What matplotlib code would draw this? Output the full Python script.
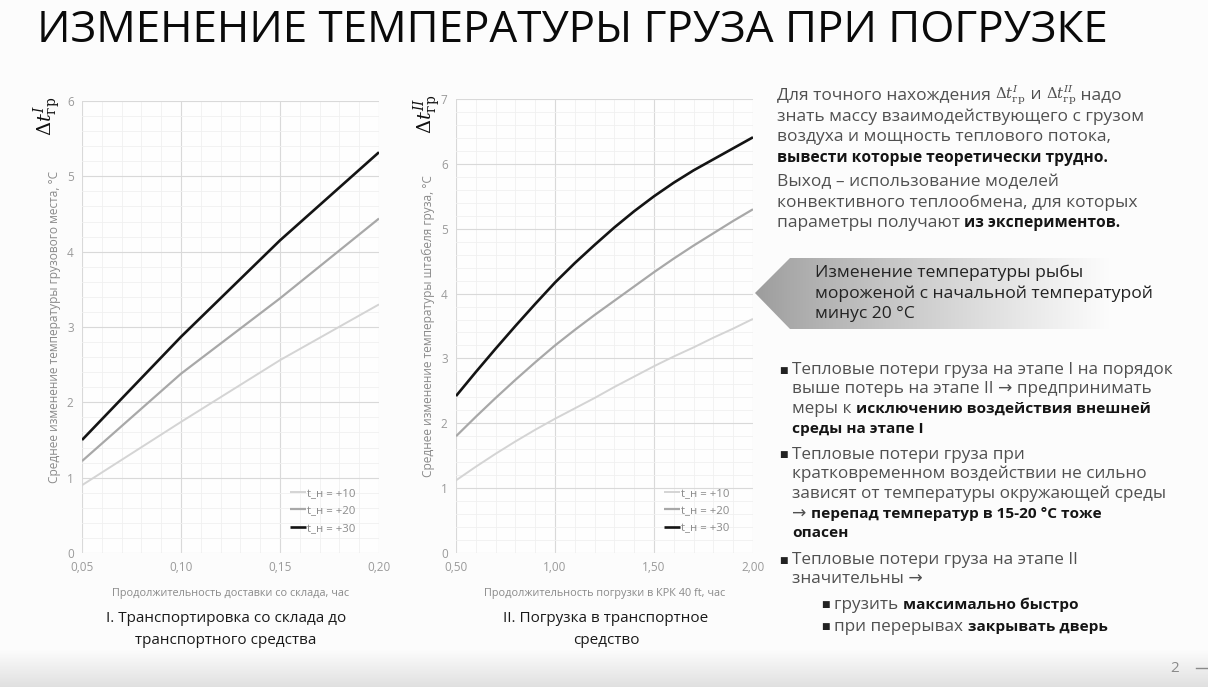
import numpy as np
import matplotlib
matplotlib.use("Agg")
import matplotlib.pyplot as plt
from matplotlib.patches import Polygon
from matplotlib.ticker import FuncFormatter, MultipleLocator

plt.rcParams['font.family'] = ['Open Sans', 'DejaVu Sans']
plt.rcParams['mathtext.fontset'] = 'dejavuserif'

W, H = 1208, 687

# --- data ---
legend_labels = ["t_н = +10", "t_н = +20", "t_н = +30"]

x1 = [0.05, 0.10, 0.15, 0.20]
y1_10 = [0.90, 1.74, 2.56, 3.30]
y1_20 = [1.22, 2.38, 3.38, 4.44]
y1_30 = [1.50, 2.87, 4.15, 5.32]

x2 = [0.5, 0.6, 0.7, 0.8, 0.9, 1.0, 1.1, 1.2, 1.3, 1.4, 1.5, 1.6, 1.7, 1.8, 1.9, 2.0]
y2_10 = [1.12, 1.33, 1.53, 1.72, 1.90, 2.07, 2.23, 2.39, 2.56, 2.72, 2.88, 3.03, 3.17, 3.32, 3.46, 3.61]
y2_20 = [1.80, 2.10, 2.39, 2.67, 2.94, 3.20, 3.44, 3.67, 3.89, 4.11, 4.33, 4.54, 4.74, 4.93, 5.12, 5.30]
y2_30 = [2.42, 2.79, 3.15, 3.50, 3.84, 4.17, 4.47, 4.75, 5.02, 5.27, 5.50, 5.71, 5.90, 6.07, 6.24, 6.41]

line_colors = ["#d4d4d4", "#a8a8a8", "#141414"]
line_widths = [1.4, 1.6, 1.9]

fig = plt.figure(figsize=(W / 100, H / 100), dpi=100)
fig.patch.set_facecolor("#fcfcfc")

# background axes in pixel coordinates
bg = fig.add_axes([0, 0, 1, 1])
bg.axis("off")
bg.set_zorder(-5)


def vgrad(c0, c1, n=100):
    t = np.linspace(0, 1, n)
    a, b = np.array(c0), np.array(c1)
    return a + (b - a) * t[:, None]


# bottom light gray band
band = vgrad([0.988, 0.988, 0.988], [0.88, 0.88, 0.88]).reshape(-1, 1, 3)
bg.imshow(band, extent=[0, W, H, 650], aspect="auto", interpolation="bilinear")

# arrow box with gradient
pts = [(755, 293), (790, 258), (1200, 258), (1200, 329), (790, 329)]
poly = Polygon(pts, closed=True, facecolor="none", edgecolor="none")
bg.add_patch(poly)
t = np.linspace(0, 1, 300)
g = 0.61 + 0.38 * np.clip(t / 0.8, 0, 1) ** 0.85
hgrad = np.stack([g, g, g], axis=-1).reshape(1, -1, 3)
im = bg.imshow(hgrad, extent=[755, 1200, 329, 258], aspect="auto", interpolation="bilinear")
im.set_clip_path(poly)
bg.set_xlim(0, W)
bg.set_ylim(H, 0)


def px(x, y):
    return x / W, 1 - y / H


renderer = fig.canvas.get_renderer()

# title, fitted to the width on the slide
title = fig.text(*px(37, 31), "ИЗМЕНЕНИЕ ТЕМПЕРАТУРЫ ГРУЗА ПРИ ПОГРУЗКЕ",
                 fontsize=30, color="#0a0a0a", va="center", ha="left")
tw = title.get_window_extent(renderer).width
title.set_fontsize(30 * 1073 / tw)


def comma(v, pos, nd):
    return f"{v:.{nd}f}".replace(".", ",")


def make_chart(rect, xs, ys_list, xlim, ylim, xmaj, xmin_step, xlabel, ylabel, delta, dx):
    ax = fig.add_axes(rect)
    ax.set_facecolor("#fefefe")
    for ys, lab, c, lw in zip(ys_list, legend_labels, line_colors, line_widths):
        ax.plot(xs, ys, color=c, lw=lw, label=lab, solid_capstyle="butt", solid_joinstyle="round")
    ax.set_xlim(*xlim)
    ax.set_ylim(*ylim)
    ax.xaxis.set_major_locator(MultipleLocator(xmaj))
    ax.xaxis.set_minor_locator(MultipleLocator(xmin_step))
    ax.yaxis.set_major_locator(MultipleLocator(1))
    ax.yaxis.set_minor_locator(MultipleLocator(0.2))
    ax.xaxis.set_major_formatter(FuncFormatter(lambda v, p: comma(v, p, 2)))
    ax.grid(which="major", color="#d9d9d9", lw=0.8)
    ax.grid(which="minor", color="#f0f0f0", lw=0.6)
    ax.set_axisbelow(True)
    ax.tick_params(which="both", length=0, labelsize=8.5, labelcolor="#9a9a9a", pad=6)
    for s in ax.spines.values():
        s.set_visible(False)
    ax.set_xlabel(xlabel, fontsize=7.8, color="#8a8a8a", labelpad=10)
    ax.set_ylabel(ylabel, fontsize=8.6, color="#8a8a8a", labelpad=4)
    ax.legend(loc="center", bbox_to_anchor=(0.81, 0.093), frameon=False,
              fontsize=8.2, handlelength=1.4, handletextpad=0.1, labelspacing=0.55,
              labelcolor="#8a8a8a")
    ax.text(dx, 1.01, delta, transform=ax.transAxes, rotation=90,
            fontsize=14, ha="center", va="top", color="#111111")
    return ax


make_chart([82 / W, 1 - 553 / H, 297 / W, 452 / H], x1, [y1_10, y1_20, y1_30],
           (0.05, 0.20), (0, 6), 0.05, 0.01,
           "Продолжительность доставки со склада, час",
           "Среднее изменение температуры грузового места, °С",
           r"$\Delta t^{I}_{\mathrm{гр}}$", -0.118)
make_chart([456 / W, 1 - 553 / H, 297 / W, 454 / H], x2, [y2_10, y2_20, y2_30],
           (0.50, 2.00), (0, 7), 0.50, 0.10,
           "Продолжительность погрузки в КРК 40 ft, час",
           "Среднее изменение температуры штабеля груза, °С",
           r"$\Delta t^{II}_{\mathrm{гр}}$", -0.098)

# captions under the charts
cap_kw = dict(fontsize=11, color="#1a1a1a", ha="center", va="center")
fig.text(*px(226, 619), "I. Транспортировка со склада до", **cap_kw)
fig.text(*px(226, 640), "транспортного средства", **cap_kw)
fig.text(*px(606, 619), "II. Погрузка в транспортное", **cap_kw)
fig.text(*px(606, 640), "средство", **cap_kw)

GRAY = "#505050"
DARK = "#151515"


def runs(x, y, parts, size=12.5):
    # parts: list of (text, bold) ; bold runs a little smaller to match the narrow slide font
    cx = x / W
    for s, bold in parts:
        fs = size
        if bold:
            fs = size * 0.9
        if s.startswith("$"):
            fs = size * 0.86
        t = fig.text(cx, 1 - y / H, s, fontsize=fs, va="center", ha="left",
                     weight="bold" if bold else "normal",
                     color=DARK if bold else GRAY)
        cx = t.get_window_extent(renderer).x1 / W


# right column
runs(777, 95, [("Для точного нахождения ", False),
               (r"$\Delta t^{I}_{\mathrm{гр}}$", False), (" и ", False),
               (r"$\Delta t^{II}_{\mathrm{гр}}$", False), (" надо", False)])
runs(777, 117, [("знать массу взаимодействующего с грузом", False)])
runs(777, 137, [("воздуха и мощность теплового потока,", False)])
runs(777, 158, [("вывести которые теоретически трудно.", True)])
runs(777, 182, [("Выход – использование моделей", False)])
runs(777, 203, [("конвективного теплообмена, для которых", False)])
runs(777, 223, [("параметры получают ", False), ("из экспериментов.", True)])

for yy, s in [(273, "Изменение температуры рыбы"),
              (294, "мороженой с начальной температурой"),
              (314, "минус 20 °С")]:
    fig.text(*px(815, yy), s, fontsize=12.6, color="#222222", va="center", ha="left")

bs = 12.3
bullet_lines = [
    (370, True, [("Тепловые потери груза на этапе I на порядок", False)]),
    (389, False, [("выше потерь на этапе II → предпринимать", False)]),
    (409, False, [("меры к ", False), ("исключению воздействия внешней", True)]),
    (429, False, [("среды на этапе I", True)]),
    (455, True, [("Тепловые потери груза при", False)]),
    (474, False, [("кратковременном воздействии не сильно", False)]),
    (494, False, [("зависят от температуры окружающей среды", False)]),
    (514, False, [("→ ", False), ("перепад температур в 15-20 °С тоже", True)]),
    (533, False, [("опасен", True)]),
    (560, True, [("Тепловые потери груза на этапе II", False)]),
    (579, False, [("значительны →", False)]),
]
for yy, has_bullet, parts in bullet_lines:
    if has_bullet:
        fig.text(*px(779, yy), "■", fontsize=6.5, color="#222222", va="center", ha="left")
    runs(792, yy, parts, size=bs)

fig.text(*px(821, 605), "■", fontsize=6.5, color="#222222", va="center", ha="left")
runs(834, 605, [("грузить ", False), ("максимально быстро", True)], size=bs)
fig.text(*px(821, 627), "■", fontsize=6.5, color="#222222", va="center", ha="left")
runs(834, 627, [("при перерывах ", False), ("закрывать дверь", True)], size=bs)

fig.text(*px(1175, 668), "2", fontsize=11, color="#8a8a8a", va="center", ha="center")
bg.plot([1196, 1208], [668, 668], color="#8a8a8a", lw=1)

fig.savefig("out.png", dpi=100, facecolor=fig.get_facecolor())
